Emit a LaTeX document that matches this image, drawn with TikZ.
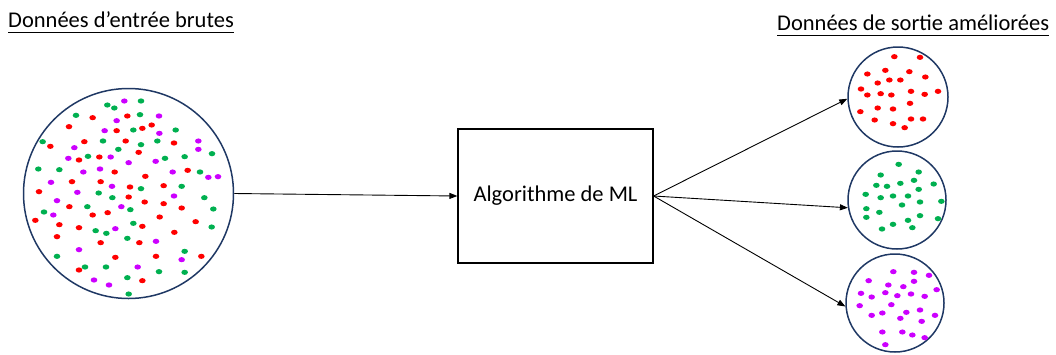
\documentclass[tikz,border=0pt]{standalone}
\usepackage{fontspec}
\setmainfont{Carlito}
\usetikzlibrary{arrows.meta}
\definecolor{ring}{HTML}{1F3864}
\definecolor{dotred}{HTML}{FF0000}
\definecolor{dotgreen}{HTML}{00B050}
\definecolor{dotviolet}{HTML}{CC00FF}
\tikzset{
  bag/.style={circle, draw=ring, line width=1.5pt, inner sep=0pt},
  algo/.style={draw=black, line width=1.2pt, minimum width=195pt, minimum height=134pt, inner sep=0pt,
    font=\fontsize{22.5}{27}\selectfont},
  heading/.style={inner sep=0pt, font=\fontsize{22.5}{27}\selectfont},
  flow/.style={draw=black, line width=0.9pt, -{Triangle[length=8pt,width=6pt]}},
  underl/.style={line width=1pt, black},
  dot/.style={x radius=3.3pt, y radius=2.6pt}
}
\begin{document}
\begin{tikzpicture}[x=1pt, y=-1pt]
\useasboundingbox (0,0) rectangle (1056,354);

% headings
\node[heading, anchor=base west] (hin) at (8,27) {Données d’entrée brutes};
\node[heading, anchor=base west] (hout) at (777,30) {Données de sortie améliorées};
\draw[underl] ([yshift=-5pt]hin.base west) -- ([yshift=-5pt]hin.base east);
\draw[underl] ([yshift=-5pt]hout.base west) -- ([yshift=-5pt]hout.base east);

% raw input set
\node[bag, minimum size=210pt] (big) at (128.5,193.5) {};
\begin{scope}[shift={(20,80)}, x=0.33333pt, y=-0.33333pt]
  \foreach \px/\py in {218/113,322/108,147/140,395/135,367/145,290/152,91/199,193/185,317/183,462/189,
      356/217,177/240,238/231,284/276,503/271,156/305,242/305,376/289,330/321,431/317,57/335,326/351,
      148/380,374/366,431/371,485/384,218/405,263/398,419/411,527/425,46/421,118/434,177/443,367/439,
      463/457,111/470,242/488,358/488,286/532,408/529,544/529,177/570,367/602}
    \fill[dotred] (\px,\py) ellipse [dot];
  \foreach \px/\py in {262/75,283/84,363/63,168/106,360/104,340/150,467/150,68/185,249/183,363/194,
      412/183,295/208,576/221,204/229,435/235,494/230,55/267,118/269,540/276,363/326,485/319,236/339,
      277/353,553/353,202/380,331/389,580/387,72/396,575/441,227/452,259/460,340/430,322/475,111/529,
      494/514,195/561,258/561,417/575,494/577,322/593,326/642}
    \fill[dotgreen] (\px,\py) ellipse [dot];
  \foreach \px/\py in {313/63,417/108,290/122,254/152,418/160,535/183,163/203,535/208,145/235,272/231,
      326/248,407/244,190/276,240/267,458/276,565/292,594/290,93/307,276/319,172/337,462/348,111/362,
      304/380,100/405,286/446,408/484,177/509,485/539,353/561,222/600,267/615}
    \fill[dotviolet] (\px,\py) ellipse [dot];
\end{scope}

% algorithm
\node[algo] (ml) at (555.5,196) {Algorithme de ML};

% output sets
\node[bag, minimum size=100pt] (outr) at (898,97) {};
\node[bag, minimum size=98pt] (outg) at (897,200) {};
\node[bag, minimum size=98pt] (outv) at (895,303) {};

\begin{scope}[shift={(830,40)}, x=0.33333pt, y=-0.33333pt]
  \foreach \px/\py in {193/50,270/52,112/102,166/91,238/95,286/111,143/129,178/120,211/120,93/147,
      112/165,152/161,184/165,243/154,284/163,324/154,91/215,143/204,189/207,240/190,134/240,189/251,
      224/263,243/237,279/237}
    \fill[dotred] (\px,\py) ellipse [dot];
\end{scope}
\begin{scope}[shift={(830,150)}, x=0.33333pt, y=-0.33333pt]
  \foreach \px/\py in {206/43,266/66,152/75,139/106,171/109,211/100,252/91,311/102,266/118,107/133,
      152/143,189/138,234/138,270/156,334/154,216/165,109/176,148/187,109/202,270/197,234/211,324/206,
      189/223,156/237,247/233}
    \fill[dotgreen] (\px,\py) ellipse [dot];
\end{scope}
\begin{scope}[shift={(830,255)}, x=0.33333pt, y=-0.33333pt]
  \foreach \px/\py in {190/50,252/52,297/61,116/77,252/79,175/90,220/95,320/104,93/115,166/113,
      125/126,202/122,243/117,284/124,89/152,184/149,229/172,270/165,157/174,125/181,211/190,315/181,
      275/199,157/231,217/231,247/240,284/248,166/269}
    \fill[dotviolet] (\px,\py) ellipse [dot];
\end{scope}

% connectors
\draw[flow] (big.east) -- (ml.west);
\draw[flow] (ml.east) -- (outr.182);
\draw[flow] (ml.east) -- (outg.189);
\draw[flow] (ml.east) -- (outv.184);
\end{tikzpicture}
\end{document}
